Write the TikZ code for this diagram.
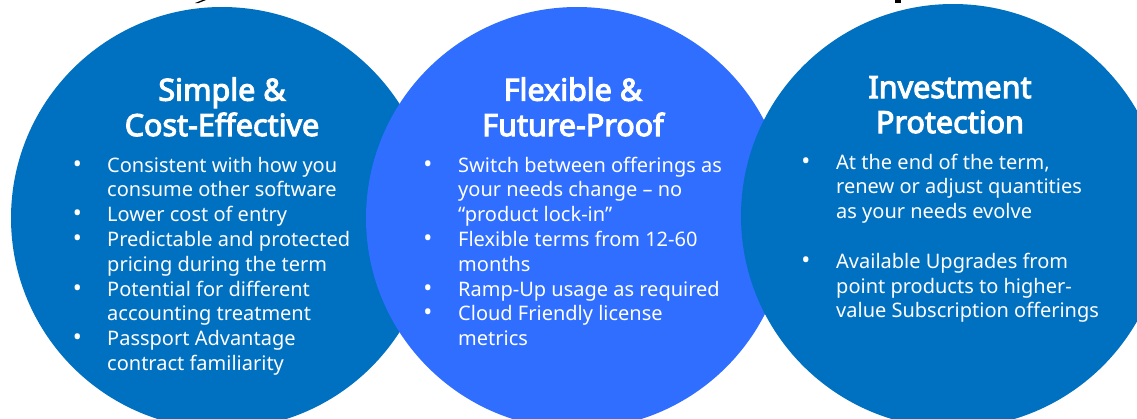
\documentclass[tikz,border=0pt]{standalone}
\usepackage{fontspec}
\setmainfont{Noto Sans}
\newfontfamily\ttlfont{Noto Sans}[FakeBold=3.5]
\definecolor{cdark}{HTML}{0070C0}
\definecolor{cbright}{HTML}{2F6EFF}
\begin{document}
\begin{tikzpicture}[x=1pt,y=-1pt,
  disc/.style={circle, inner sep=0pt, minimum size=#1},
  ttl/.style={text=white, font=\ttlfont\fontsize{30.5}{35}\selectfont, anchor=base, inner sep=0pt},
  item/.style={text=white, font=\fontsize{20}{24.8}\selectfont, anchor=base west, inner sep=0pt},
  dot/.style={text=white, font=\fontsize{24}{24.8}\selectfont, anchor=base, inner sep=0pt}]
\useasboundingbox (0,0) rectangle (1137,418);
\begin{scope}
\clip (0,0) rectangle (1137,418);
\node[disc=422pt, fill=cdark] (cl) at (222,218) {};
\node[disc=422pt, fill=cbright] (cm) at (577,218) {};
\node[disc=424pt, fill=cdark] (cr) at (953,216) {};
\fill[black] (195,3) -- (198.5,3) -- (206,0) -- (202.5,0) -- cycle;
\fill[black] (895,0) rectangle (901,3);
\end{scope}
% titles
\node[ttl] (t1a) at (222,100.7) {Simple \&};
\node[ttl] (t1b) at (222,136) {Cost-Effective};
\node[ttl] (t2a) at (573,100.7) {Flexible \&};
\node[ttl] (t2b) at (573,136) {Future-Proof};
\node[ttl] (t3a) at (950,98) {Investment};
\node[ttl] (t3b) at (950,133) {Protection};
% left items
\foreach \t [count=\i] in {Consistent with how you, consume other software, Lower cost of entry, Predictable and protected, pricing during the term, Potential for different, accounting treatment, Passport Advantage, contract familiarity}
  \node[item] (l\i) at (107,{172+24.8*(\i-1)}) {\t};
\foreach \i in {1,3,4,6,8}
  \node[dot] (lb\i) at (77.5,{172+24.8*(\i-1)}) {•};
% middle items
\foreach \t [count=\i] in {Switch between offerings as, your needs change – no, “product lock-in”, Flexible terms from 12-60, months, Ramp-Up usage as required, Cloud Friendly license, metrics}
  \node[item] (m\i) at (458,{172+24.8*(\i-1)}) {\t};
\foreach \i in {1,4,6,7}
  \node[dot] (mb\i) at (428,{172+24.8*(\i-1)}) {•};
% right items
\foreach \t/\k [count=\i] in {{At the end of the term,}/0, renew or adjust quantities/1, as your needs evolve/2, Available Upgrades from/4, point products to higher-/5, value Subscription offerings/6}
  \node[item] (r\i) at (836,{169+24.8*\k}) {\t};
\node[dot] (rb1) at (806,169) {•};
\node[dot] (rb2) at (806,{169+24.8*4}) {•};
\end{tikzpicture}
\end{document}
